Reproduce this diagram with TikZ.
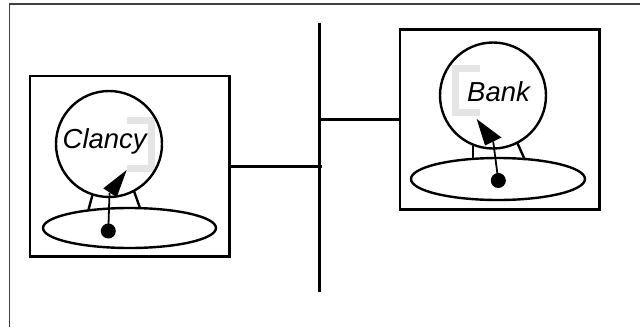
\documentclass[tikz,border=0pt]{standalone}
\usepackage{fontspec}
\setmainfont{Liberation Sans}
\usetikzlibrary{shapes.geometric,calc}
\tikzset{
  agentbox/.style={draw, line width=2.8pt, rectangle, inner sep=0pt, outer sep=0pt},
  ballcirc/.style={draw, line width=2.4pt, circle, minimum size=106pt, inner sep=0pt, outer sep=0pt},
  baseell/.style={draw, line width=2.4pt, ellipse, inner sep=0pt, outer sep=0pt},
  dotnode/.style={fill, circle, minimum size=15pt, inner sep=0pt, outer sep=0pt},
  leg/.style={line width=2.4pt},
  stem/.style={line width=1.8pt},
  headfill/.style={fill=black},
  bracket/.style={draw=black!10, line width=7pt, line join=miter},
  conn/.style={line width=2.8pt},
  frameline/.style={line width=1.6pt, draw=black!75},
  lbl/.style={font=\itshape\fontsize{27.5}{27.5}\selectfont, inner sep=0pt, anchor=base west}
}
\begin{document}
\begin{tikzpicture}[x=1pt,y=-1pt]
\useasboundingbox (0,0) rectangle (640,327);
% partial outer frame
\coordinate (fa) at (9.5,327);
\coordinate (fb) at (9.5,4);
\coordinate (fc) at (640,4);
\draw[frameline] (fa) -- (fb) -- (fc);

% ---- Clancy ----
\node[agentbox, minimum width=199.5pt, minimum height=180.5pt] (lbox) at (129.75,166.25) {};
\draw[bracket] (126.7,120.2) -- (151.5,120.2) -- (151.5,168.2) -- (126.7,168.2);
\node[ballcirc] (lcirc) at (109,144) {};
\node[lbl] (ltext) at (62.5,148.3) {Clancy};
\node[baseell, minimum width=173pt, minimum height=40pt] (lell) at (129.5,228) {};
\draw[leg] (lcirc.-108) -- ($(lell.center)+(-41,-18.3)$);
\draw[leg] (lcirc.-62) -- ($(lell.center)+(10.5,-20)$);
\node[dotnode] (ldot) at (108.3,231) {};
\coordinate (lbase) at (109.5,193);
\coordinate (ltip) at (126.7,170);
\coordinate (lh1) at (103.3,188.3);
\coordinate (lh2) at (116.7,197.3);
\draw[stem] (ldot.center) -- (lbase);
\fill[headfill] (ltip) -- (lh1) -- (lh2) -- cycle;

% ---- Bank ----
\node[agentbox, minimum width=199.3pt, minimum height=180pt] (rbox) at (499.65,119.3) {};
\draw[bracket] (480,68.5) -- (455.2,68.5) -- (455.2,112.5) -- (480,112.5);
\node[ballcirc] (rcirc) at (493,95.5) {};
\node[lbl] (rtext) at (467,101.7) {Bank};
\node[baseell, minimum width=174pt, minimum height=42pt] (rell) at (498,179) {};
\draw[leg] ($(rcirc.center)+(-20.3,50.5)$) -- ($(rell.center)+(-25.3,-19.5)$);
\draw[leg] ($(rcirc.center)+(24.3,47.5)$) -- ($(rell.center)+(27,-19)$);
\node[dotnode] (rdot) at (498.3,180.5) {};
\coordinate (rbase) at (493.2,141.5);
\coordinate (rtip) at (476.7,119);
\coordinate (rh1) at (485,145.5);
\coordinate (rh2) at (501.5,137.5);
\draw[stem] (rdot.center) -- (rbase);
\fill[headfill] (rtip) -- (rh1) -- (rh2) -- cycle;

% ---- connectors ----
\coordinate (vtop) at (319.5,22.7);
\coordinate (vbot) at (319.5,291.7);
\draw[conn] (vtop) -- (vbot);
\coordinate (ljoin) at (321.5,166.25);
\coordinate (rjoin) at (319.5,119.3);
\draw[conn] (lbox.east) -- (ljoin);
\draw[conn] (rjoin) -- (rbox.west);
\end{tikzpicture}
\end{document}
